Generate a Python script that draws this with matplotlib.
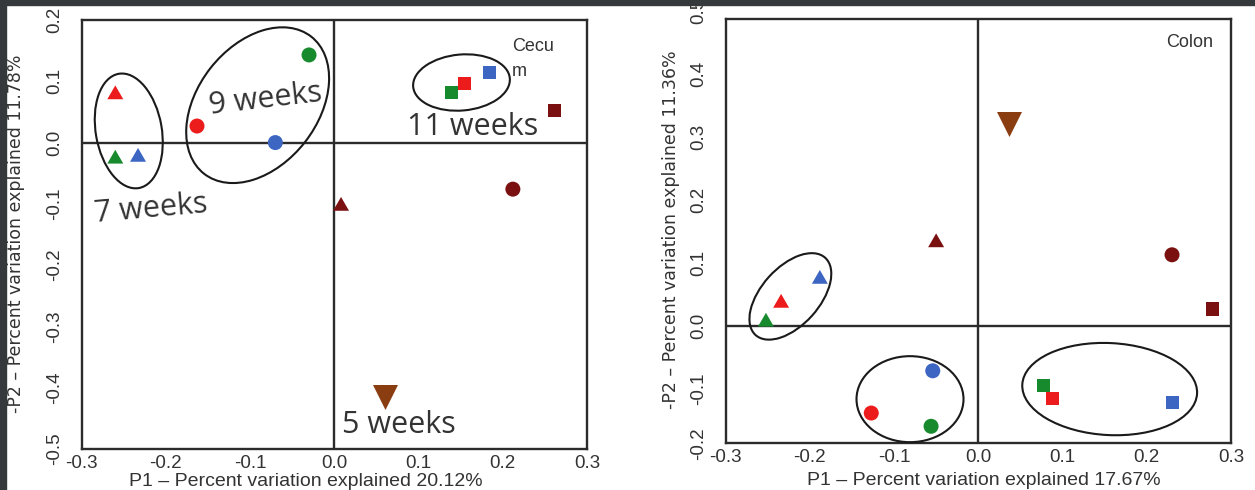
import matplotlib
matplotlib.use("Agg")
import matplotlib.pyplot as plt
from matplotlib.patches import Ellipse, Rectangle
from matplotlib.path import Path
import matplotlib.transforms as mtransforms

# ---------------- data ----------------
# colour order within each array: red, green, blue, dark red
group_colors = ["#ec1c1c", "#178a2e", "#3d66c3", "#7a1010"]
brown = "#8b3d12"

# Cecum
cecum_tri_x = [-0.260, -0.260, -0.233, 0.008]
cecum_tri_y = [0.082, -0.023, -0.020, -0.100]
cecum_circ_x = [-0.163, -0.030, -0.070, 0.212]
cecum_circ_y = [0.027, 0.143, 0.000, -0.076]
cecum_sq_x = [0.155, 0.139, 0.184, 0.261]
cecum_sq_y = [0.096, 0.082, 0.115, 0.053]
cecum_5wk_x = [0.060]
cecum_5wk_y = [-0.415]

# Colon
colon_tri_x = [-0.234, -0.252, -0.188, -0.050]
colon_tri_y = [0.040, 0.010, 0.078, 0.136]
colon_circ_x = [-0.127, -0.056, -0.054, 0.230]
colon_circ_y = [-0.138, -0.159, -0.071, 0.113]
colon_sq_x = [0.088, 0.078, 0.231, 0.278]
colon_sq_y = [-0.115, -0.094, -0.122, 0.027]
colon_5wk_x = [0.037]
colon_5wk_y = [0.320]

x_ticks = [-0.3, -0.2, -0.1, 0.0, 0.1, 0.2, 0.3]
cecum_y_ticks = [-0.5, -0.4, -0.3, -0.2, -0.1, 0.0, 0.1, 0.2]
colon_y_ticks = [-0.1, 0.0, 0.1, 0.2, 0.3, 0.4]

cecum_xlabel = "P1 \u2013 Percent variation explained 20.12%"
cecum_ylabel = "-P2 \u2013 Percent variation explained 11.78%"
colon_xlabel = "P1 \u2013 Percent variation explained 17.67%"
colon_ylabel = "-P2 \u2013 Percent variation explained 11.36%"

# ---------------- figure ----------------
DPI = 100
W, H = 1255, 490
fig = plt.figure(figsize=(W / DPI, H / DPI), dpi=DPI)
fig.patch.set_facecolor("white")

def px_axes(x0, x1, ytop, ybot):
    return fig.add_axes([x0 / W, 1 - ybot / H, (x1 - x0) / W, (ybot - ytop) / H])

axL = px_axes(81.6, 587.0, 20.0, 449.0)
axR = px_axes(725.5, 1231.0, 19.0, 443.3)

tri_up = Path([(-1, -0.866), (1, -0.866), (0, 0.866), (-1, -0.866)],
              [Path.MOVETO, Path.LINETO, Path.LINETO, Path.CLOSEPOLY])

LINE = "#2b2b2b"
TICKFONT = "Liberation Sans"

def style(ax, xlim, ylim, yticks):
    ax.set_xlim(*xlim)
    ax.set_ylim(*ylim)
    ax.set_xticks(x_ticks)
    ax.set_xticklabels([f"{t:.1f}" for t in x_ticks])
    ax.set_yticks(yticks)
    ax.set_yticklabels([f"{t:.1f}" for t in yticks])
    for s in ax.spines.values():
        s.set_linewidth(1.7)
        s.set_color(LINE)
    ax.axhline(0, color=LINE, lw=1.7, zorder=1)
    ax.axvline(0, color=LINE, lw=1.7, zorder=1)
    ax.tick_params(length=0, labelsize=13.5, labelcolor="#333333",
                   labelfontfamily=TICKFONT)
    ax.tick_params(axis="x", pad=4)
    ax.tick_params(axis="y", pad=13)
    for lab in ax.get_yticklabels():
        lab.set_rotation(90)
        lab.set_va("center")

style(axL, (-0.3, 0.3), (-0.5, 0.2), cecum_y_ticks)
style(axR, (-0.3, 0.3), (-0.186, 0.487), colon_y_ticks)

# edge labels of the colon y axis (partly outside the frame)
axR.text(-0.3, -0.186, "-0.2", transform=axR.transData, rotation=90,
         ha="right", va="center", fontsize=13.5, family=TICKFONT,
         color="#333333", clip_on=False,
         ).set_position((-0.3 - 0.0215, -0.186))
axR.text(-0.3 - 0.0215, 0.5, "0.5", rotation=90, ha="right", va="center",
         fontsize=13.5, family=TICKFONT, color="#333333", clip_on=False)

def draw_points(ax, tx, ty, cx, cy, sx, sy, bx, by):
    ax.scatter(tx, ty, s=11.5 ** 2, c=group_colors, marker=tri_up,
               linewidths=0, zorder=3, clip_on=False)
    ax.scatter(cx, cy, s=10.8 ** 2, c=group_colors, marker="o",
               linewidths=0, zorder=3, clip_on=False)
    ax.scatter(sx, sy, s=9.4 ** 2, c=group_colors, marker="s",
               linewidths=0, zorder=3, clip_on=False)
    ax.scatter(bx, by, s=18 ** 2, c=[brown], marker="v",
               linewidths=0, zorder=3, clip_on=False)

draw_points(axL, cecum_tri_x, cecum_tri_y, cecum_circ_x, cecum_circ_y,
            cecum_sq_x, cecum_sq_y, cecum_5wk_x, cecum_5wk_y)
draw_points(axR, colon_tri_x, colon_tri_y, colon_circ_x, colon_circ_y,
            colon_sq_x, colon_sq_y, colon_5wk_x, colon_5wk_y)

# ---------------- hand-drawn group ellipses (sizes in pixels) ----------------
def ring(ax, cx, cy, w_px, h_px, angle):
    trans = fig.dpi_scale_trans + mtransforms.ScaledTranslation(cx, cy, ax.transData)
    e = Ellipse((0, 0), w_px / DPI, h_px / DPI, angle=angle, fill=False,
                lw=1.5, ec="#1a1a1a", transform=trans, clip_on=False, zorder=4)
    ax.add_artist(e)

ring(axL, -0.244, 0.019, 66, 116, 10)
ring(axL, -0.091, 0.061, 174, 120, 52)
ring(axL, 0.151, 0.098, 97, 56, 5)

ring(axR, -0.223, 0.047, 104, 58, 48)
ring(axR, -0.081, -0.116, 107, 86, 0)
ring(axR, 0.156, -0.100, 175, 92, -3)

# ---------------- annotations ----------------
WK = dict(family="Open Sans", fontsize=22, color="#333333",
          ha="center", va="baseline", rotation_mode="anchor", zorder=5)
axL.text(-0.217, -0.122, "7 weeks", rotation=5, **WK)
axL.text(-0.080, 0.058, "9 weeks", rotation=6.6, **WK)
axL.text(0.164, 0.013, "11 weeks", **WK)
axL.text(0.077, -0.474, "5 weeks", **WK)

PANEL = dict(family="Liberation Sans", fontsize=13, color="#333333", va="baseline")
axL.text(0.211, 0.150, "Cecu", ha="left", **PANEL)
axL.text(0.211, 0.109, "m", ha="left", **PANEL)
axR.text(0.279, 0.443, "Colon", ha="right", **PANEL)

# axis titles
fig.text(306 / W, 4.5 / H, cecum_xlabel, ha="center", va="baseline",
         fontsize=14, family="Liberation Sans", color="#333333")
fig.text(984 / W, 5 / H, colon_xlabel, ha="center", va="baseline",
         fontsize=14, family="Liberation Sans", color="#333333")
fig.text(16 / W, 1 - 233.5 / H, cecum_ylabel, rotation=90, ha="center",
         va="center", fontsize=12.5, family="DejaVu Sans", color="#333333")
fig.text(671 / W, 1 - 230 / H, colon_ylabel, rotation=90, ha="center",
         va="center", fontsize=12.5, family="DejaVu Sans", color="#333333")

# dark screenshot border (top and left)
fig.add_artist(Rectangle((0, 1 - 5 / H), 1, 5 / H, transform=fig.transFigure,
                         color="#35393b", zorder=100))
fig.add_artist(Rectangle((0, 0), 6 / W, 1, transform=fig.transFigure,
                         color="#35393b", zorder=100))

fig.savefig("out.png", dpi=DPI)
